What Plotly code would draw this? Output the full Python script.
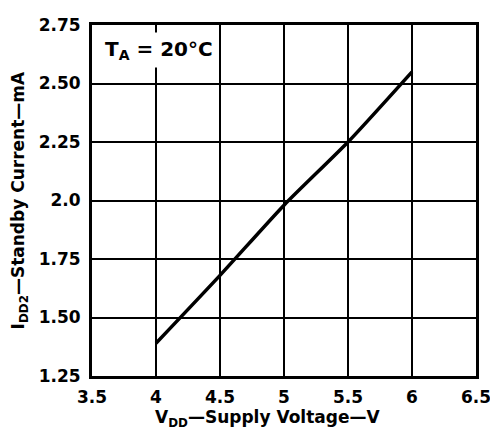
import plotly.graph_objects as go

# Data
vdd = [4.0, 4.5, 5.0, 5.5, 6.0]
idd2 = [1.39, 1.68, 1.98, 2.25, 2.55]

x_ticks = [3.5, 4, 4.5, 5, 5.5, 6, 6.5]
x_ticktext = ["3.5", "4", "4.5", "5", "5.5", "6", "6.5"]
y_ticks = [1.25, 1.5, 1.75, 2.0, 2.25, 2.5, 2.75]
y_ticktext = ["1.25", "1.50", "1.75", "2.0", "2.25", "2.50", "2.75"]

FONT = "DejaVu Sans"

fig = go.Figure()
fig.add_trace(go.Scatter(x=vdd, y=idd2, mode="lines",
                         line=dict(color="black", width=3.5, shape="spline", smoothing=0.6),
                         showlegend=False, cliponaxis=False))

axis_common = dict(showgrid=True, gridcolor="black", gridwidth=2.2,
                   showline=True, linecolor="black", linewidth=3, mirror=True,
                   zeroline=False, ticks="", ticklabeloverflow="allow",
                   tickfont=dict(family=FONT, size=17, color="black", weight="bold"))

fig.update_xaxes(range=[3.5, 6.5], tickvals=x_ticks, ticktext=x_ticktext, ticklabelstandoff=4, **axis_common)
fig.update_yaxes(range=[1.25, 2.75], tickvals=y_ticks, ticktext=y_ticktext, ticklabelstandoff=5, **axis_common)

# page body has an 8px default margin, so the figure is sized to fit the window
fig.update_layout(
    width=490, height=423,
    margin=dict(l=84, r=17, t=7, b=55),
    paper_bgcolor="white", plot_bgcolor="white",
    annotations=[
        dict(text="T<sub>A</sub> = 20°C", xref="paper", yref="paper", x=0.022, y=0.98,
             xanchor="left", yanchor="top", showarrow=False, bgcolor="white",
             borderpad=4, font=dict(family=FONT, size=20, color="black", weight="bold")),
        dict(text="V<sub>DD</sub>—Supply Voltage—V", xref="paper", yref="paper",
             x=(270 - 92) / 389, y=-0.082, xanchor="center", yanchor="top", showarrow=False,
             font=dict(family=FONT, size=17, color="black", weight="bold")),
        dict(text="I<sub>DD2</sub>—Standby Current—mA", xref="paper", yref="paper",
             x=(19 - 92) / 389, y=0.5, xanchor="center", yanchor="middle", showarrow=False,
             textangle=-90, font=dict(family=FONT, size=17, color="black", weight="bold")),
    ],
)

fig.write_html("out.html")
